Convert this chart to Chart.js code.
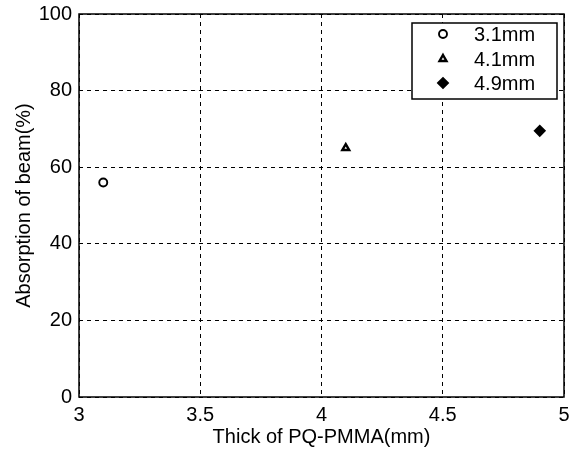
<!DOCTYPE html>
<html><head><meta charset="utf-8">
<script src="https://cdn.jsdelivr.net/npm/chart.js@4.4.1/dist/chart.umd.min.js"></script>
<style>html,body{margin:0;padding:0;background:#fff;}#wrap{width:575px;height:452px;}</style>
</head><body><div id="wrap"><canvas id="c" width="575" height="452"></canvas></div>
<script>
const seriesLabels = ["3.1mm", "4.1mm", "4.9mm"];
const thickness = [3.1, 4.1, 4.9];
const absorption = [56, 65, 69.5];
const markerStyles = ["circle", "triangle", "rectRot"];
const xTicks = [3, 3.5, 4, 4.5, 5];
const yTicks = [0, 20, 40, 60, 80, 100];
const FONT = "'Liberation Sans', Arial, sans-serif";

const datasets = seriesLabels.map((lab, i) => ({
  label: lab,
  data: [{x: thickness[i], y: absorption[i]}],
  pointStyle: markerStyles[i],
  pointRadius: i === 2 ? 5 : 4,
  borderColor: '#000',
  backgroundColor: i === 2 ? '#000' : '#fff',
  borderWidth: i === 1 ? 2.4 : 1.9,
  showLine: false
}));

const framePlugin = {
  id: 'frame',
  afterDraw(chart) {
    const {ctx, chartArea: a} = chart;
    ctx.save();
    ctx.strokeStyle = '#000';
    ctx.lineWidth = 1.5;
    ctx.strokeRect(a.left, a.top, a.right - a.left, a.bottom - a.top);
    // legend box
    const lx = 412, ly = 23, lw = 145, lh = 76;
    ctx.fillStyle = '#fff';
    ctx.fillRect(lx, ly, lw, lh);
    ctx.strokeRect(lx, ly, lw, lh);
    ctx.font = '20px ' + FONT;
    ctx.textBaseline = 'middle';
    ctx.textAlign = 'left';
    const rows = [34, 59, 83];
    chart.data.datasets.forEach((ds, i) => {
      const y = rows[i];
      ctx.lineWidth = ds.borderWidth;
      ctx.strokeStyle = '#000';
      ctx.fillStyle = ds.backgroundColor;
      Chart.helpers.drawPoint(ctx, {pointStyle: ds.pointStyle, radius: ds.pointRadius, borderWidth: ds.borderWidth, rotation: 0}, 443, y);
      ctx.fillStyle = '#000';
      ctx.fillText(ds.label, 474, y + 1);
    });
    ctx.restore();
  }
};

new Chart(document.getElementById('c'), {
  type: 'scatter',
  data: {datasets},
  options: {
    responsive: false,
    animation: false,
    devicePixelRatio: 1,
    layout: {padding: {top: 14, right: 11, left: 0, bottom: 0}},
    plugins: {legend: {display: false}, tooltip: {enabled: false}},
    scales: {
      x: {
        type: 'linear', min: 3, max: 5,
        afterBuildTicks: s => { s.ticks = xTicks.map(v => ({value: v})); },
        afterFit: s => { s.height = 55; s.paddingLeft = 0; s.paddingRight = 0; },
        grid: {color: '#000', lineWidth: 1, drawTicks: false},
        border: {display: false, dash: [4, 4]},
        ticks: {color: '#000', font: {family: FONT, size: 20}, padding: 6, maxRotation: 0, callback: v => String(v)},
        title: {display: true, text: 'Thick of PQ-PMMA(mm)', color: '#000', font: {family: FONT, size: 20}, padding: {top: 0, bottom: 3}}
      },
      y: {
        type: 'linear', min: 0, max: 100,
        afterBuildTicks: s => { s.ticks = yTicks.map(v => ({value: v})); },
        afterFit: s => { s.width = 79; s.paddingTop = 0; s.paddingBottom = 0; },
        grid: {color: '#000', lineWidth: 1, drawTicks: false},
        border: {display: false, dash: [4, 4]},
        ticks: {color: '#000', font: {family: FONT, size: 20}, padding: 7, callback: v => String(v)},
        title: {display: true, text: 'Absorption of beam(%)', color: '#000', font: {family: FONT, size: 20}, padding: {top: 12, bottom: 4}}
      }
    }
  },
  plugins: [framePlugin]
});
</script></body></html>
